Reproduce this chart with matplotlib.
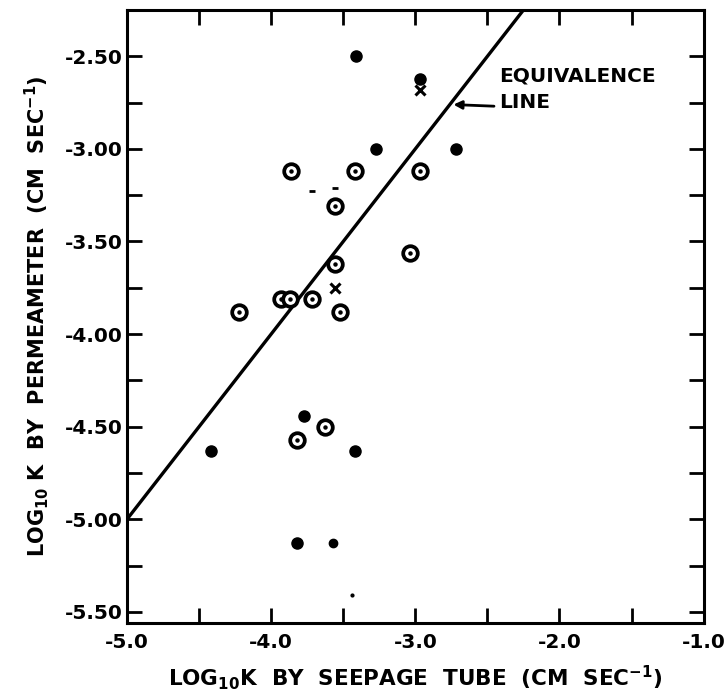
import matplotlib
matplotlib.use("Agg")
import matplotlib.pyplot as plt
import numpy as np

plt.rcParams['font.family'] = ['DejaVu Sans']
plt.rcParams['font.weight'] = 'bold'
plt.rcParams['mathtext.default'] = 'bf'

# -------------------------
# data
# -------------------------
# circled points (ring with a dot in the middle)
ring_x = [-3.86, -3.42, -2.97, -3.56, -3.04, -3.56, -3.93, -3.87, -3.72, -4.22, -3.52, -3.63, -3.82]
ring_y = [-3.12, -3.12, -3.12, -3.31, -3.56, -3.62, -3.81, -3.81, -3.81, -3.88, -3.88, -4.50, -4.57]

# solid dots
dot_x = [-3.41, -3.27, -2.72, -3.77, -4.42, -3.42, -3.82, -2.97]
dot_y = [-2.50, -3.00, -3.00, -4.44, -4.63, -4.63, -5.13, -2.62]

# smaller solid dot
small_x = [-3.57]
small_y = [-5.13]

# crosses
cross_x = [-2.97, -3.56]
cross_y = [-2.68, -3.75]

# stray marks on the sheet
dash_x = [-3.72, -3.56]
dash_y = [-3.23, -3.21]
speck_x = [-3.44]
speck_y = [-5.41]

# equivalence line (1:1)
eq_line = [-5.0, -2.0]

x_ticks = np.arange(-5.0, -0.99, 0.5)
x_labels = ["-5.0", "", "-4.0", "", "-3.0", "", "-2.0", "", "-1.0"]
y_ticks = np.arange(-5.50, -2.24, 0.25)
y_labels = ["-5.50", "", "-5.00", "", "-4.50", "", "-4.00", "", "-3.50", "", "-3.00", "", "-2.50", ""]

fig = plt.figure(figsize=(7.28, 6.96), dpi=100)
ax = fig.add_axes([0.1745, 0.105, 0.792, 0.8806])

ax.plot(eq_line, eq_line, color="black", lw=2.4, zorder=2)

ax.plot(ring_x, ring_y, "o", ms=10.5, mfc="white", mec="black", mew=2.7, zorder=3)
ax.plot(ring_x, ring_y, "o", ms=2.2, color="black", zorder=4)
ax.plot(dot_x, dot_y, "o", ms=8, color="black", zorder=3)
ax.plot(small_x, small_y, "o", ms=6, color="black", zorder=3)
ax.plot(cross_x, cross_y, "x", ms=6.5, mew=2.2, color="black", zorder=3)
ax.plot(dash_x, dash_y, "_", ms=5, mew=2, color="black", zorder=3)
ax.plot(speck_x, speck_y, "o", ms=2, color="black", zorder=3)

# label with arrow
ax.text(-2.42, -2.605, "EQUIVALENCE", fontsize=14.5, fontweight="bold", ha="left", va="center")
ax.text(-2.42, -2.75, "LINE", fontsize=14.5, fontweight="bold", ha="left", va="center")
ax.annotate("", xy=(-2.755, -2.76), xytext=(-2.435, -2.77),
            arrowprops=dict(arrowstyle="-|>", color="black", lw=2, mutation_scale=12))

ax.set_xlim(-5.0, -1.0)
ax.set_ylim(-5.56, -2.25)

ax.set_xticks(x_ticks)
ax.set_xticklabels(x_labels)
ax.set_yticks(y_ticks)
ax.set_yticklabels(y_labels)
ax.tick_params(direction="in", length=11, width=2, top=True, right=True,
               labelsize=14.5, color="black")
ax.tick_params(axis="x", pad=7)
ax.tick_params(axis="y", pad=3)
for lab in ax.get_xticklabels() + ax.get_yticklabels():
    lab.set_fontweight("bold")

for s in ax.spines.values():
    s.set_linewidth(2.2)

ax.set_xlabel(r"LOG$_{10}$K  BY  SEEPAGE  TUBE  (CM  SEC$^{-1}$)", fontsize=15.5,
              fontweight="bold", labelpad=8)
ax.set_ylabel(r"LOG$_{10}$ K  BY  PERMEAMETER  (CM  SEC$^{-1}$)", fontsize=15,
              fontweight="bold", labelpad=10)

fig.savefig("out.png", dpi=100, facecolor="white")
